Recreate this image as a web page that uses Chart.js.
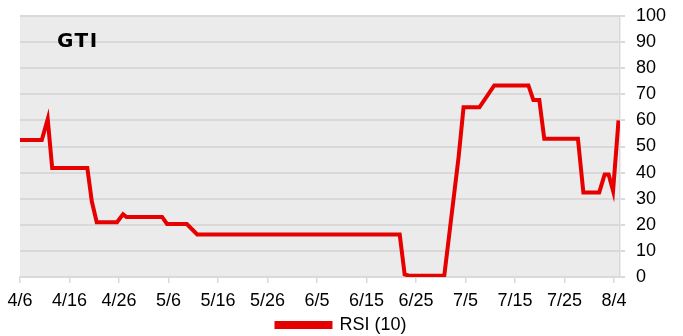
<!DOCTYPE html>
<html>
<head>
<meta charset="utf-8">
<script src="https://cdn.jsdelivr.net/npm/chart.js@4.4.1/dist/chart.umd.min.js"></script>
<style>
  html, body { margin: 0; padding: 0; background: #fff; }
  #wrap { width: 683px; height: 336px; position: relative; }
</style>
</head>
<body>
<div id="wrap"><canvas id="rsiChart"></canvas></div>
<script>
// Days counted from 4/6, with the RSI (10) reading on each day
const days = [0, 4.4, 5.6, 6.5, 13.6, 14.5, 15.5, 19.6, 20.8, 21.5, 28.7, 29.7, 33.7, 35.8,
  76.7, 77.7, 78.6, 85.7, 88.6, 89.6, 92.8, 95.8, 102.7, 103.7, 104.9, 105.9,
  112.7, 113.8, 117.0, 118.1, 118.9, 119.8, 120.9];
const rsi = [52.5, 52.5, 60.5, 41.8, 41.8, 29, 21, 21, 24, 23, 23, 20.3, 20.3, 16.3,
  16.3, 1, 0.5, 0.5, 46, 65, 65, 73.4, 73.4, 67.8, 67.8, 53,
  53, 32.4, 32.4, 39.3, 39.3, 33, 60];

// Date axis labels, one every 10 days
const tickDays = [0, 10, 20, 30, 40, 50, 60, 70, 80, 90, 100, 110, 120];
const tickLabels = ['4/6', '4/16', '4/26', '5/6', '5/16', '5/26', '6/5', '6/15', '6/25', '7/5', '7/15', '7/25', '8/4'];
const yTicks = [0, 10, 20, 30, 40, 50, 60, 70, 80, 90, 100];

const chartTitle = 'GTI';
const seriesName = 'RSI (10)';

const FONT = "'Liberation Sans', Arial, sans-serif";

// grey plot background + ticker name in the corner
const plotBackground = {
    id: 'plotBackground',
    beforeDraw(chart) {
        const { ctx, chartArea } = chart;
        ctx.save();
        ctx.fillStyle = '#ebebeb';
        ctx.fillRect(chartArea.left, chartArea.top, chartArea.right - chartArea.left, chartArea.bottom - chartArea.top);
        ctx.restore();
    },
    afterDraw(chart) {
        const { ctx, chartArea } = chart;
        ctx.save();
        ctx.fillStyle = '#000';
        ctx.font = "bold 20px Verdana, 'DejaVu Sans', sans-serif";
        ctx.letterSpacing = '1.5px';
        ctx.textBaseline = 'alphabetic';
        ctx.fillText(chartTitle, chartArea.left + 37, chartArea.top + 30.5);
        ctx.restore();
    }
};

const ctx = document.getElementById('rsiChart').getContext('2d');

new Chart(ctx, {
    type: 'line',
    data: {
        datasets: [{
            label: seriesName,
            data: days.map((d, i) => ({ x: d, y: rsi[i] })),
            borderColor: '#e60000',
            backgroundColor: '#e60000',
            borderWidth: 4,
            pointRadius: 0,
            tension: 0,
            yAxisID: 'y'
        }]
    },
    options: {
        responsive: true,
        maintainAspectRatio: false,
        animation: false,
        layout: {
            // legend is allowed to run a little past the bottom edge
            padding: { left: 0, right: 0, top: 16, bottom: -8 }
        },
        scales: {
            x: {
                type: 'linear',
                min: 0,
                max: 121.2,
                afterBuildTicks: scale => {
                    scale.ticks = tickDays.map(v => ({ value: v }));
                },
                afterFit: scale => {
                    scale.height = 35;
                    scale.paddingLeft = 0;
                    scale.paddingRight = 0;
                },
                grid: {
                    drawOnChartArea: false,
                    drawTicks: true,
                    tickLength: 6,
                    color: '#d9d9d9',
                    lineWidth: 1.5
                },
                border: { display: true, color: '#d9d9d9', width: 1.5 },
                ticks: {
                    autoSkip: false,
                    maxRotation: 0,
                    padding: 7,
                    color: '#000',
                    font: { family: FONT, size: 18 },
                    callback: value => tickLabels[tickDays.indexOf(value)]
                }
            },
            y: {
                position: 'right',
                min: 0,
                max: 100,
                afterBuildTicks: scale => {
                    scale.ticks = yTicks.map(v => ({ value: v }));
                },
                afterFit: scale => {
                    scale.width = 63;
                    scale.paddingTop = 0;
                    scale.paddingBottom = 0;
                },
                grid: {
                    color: '#d9d9d9',
                    lineWidth: 2,
                    tickLength: 5
                },
                border: { display: true, color: '#d9d9d9', width: 1.5 },
                ticks: {
                    padding: 11,
                    color: '#000',
                    font: { family: FONT, size: 18 }
                }
            },
            // empty strip left of the plot
            gutter: {
                position: 'left',
                display: true,
                grid: { display: false },
                border: { display: false },
                ticks: { display: false },
                afterFit: scale => {
                    scale.width = 20;
                    scale.paddingTop = 0;
                    scale.paddingBottom = 0;
                }
            }
        },
        plugins: {
            legend: {
                position: 'bottom',
                labels: {
                    boxWidth: 54,
                    boxHeight: 4,
                    padding: 4,
                    color: '#000',
                    font: { family: FONT, size: 18 }
                }
            },
            tooltip: { enabled: false }
        }
    },
    plugins: [plotBackground]
});
</script>
</body>
</html>
